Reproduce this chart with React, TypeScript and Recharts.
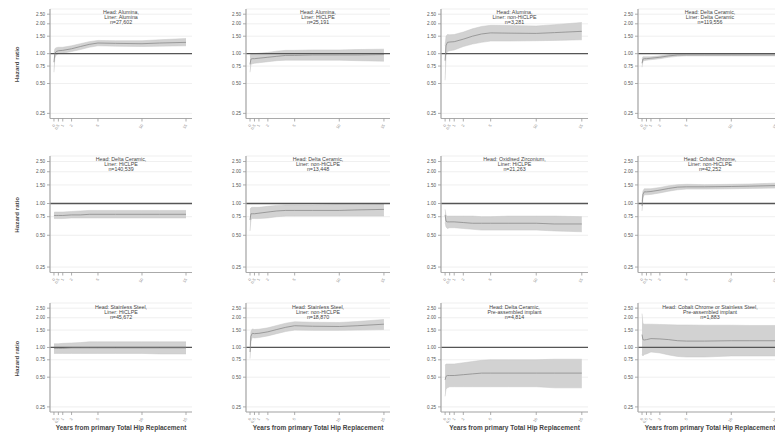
import React from 'react';
import { ComposedChart, Area, Line, XAxis, YAxis, CartesianGrid, ReferenceLine } from 'recharts';

// ---- data ----
const years = [0, 0.1, 0.25, 0.5, 1, 2, 3, 4, 5, 7, 10, 12, 15];
const yTicks = [0.25, 0.5, 0.75, 1, 1.5, 2, 2.5];
const xTicks = [0, 0.5, 1, 2, 5, 10, 15];
const xTickLabels = ['0', '0.5', '1', '2', '5', '10', '15'];

const heads = [
  'Head: Alumina,', 'Head: Alumina,', 'Head: Alumina,', 'Head: Delta Ceramic,',
  'Head: Delta Ceramic,', 'Head: Delta Ceramic,', 'Head: Oxidised Zirconium,', 'Head: Cobalt Chrome,',
  'Head: Stainless Steel,', 'Head: Stainless Steel,', 'Head: Delta Ceramic,', 'Head: Cobalt Chrome or Stainless Steel,',
];
const liners = [
  'Liner: Alumina', 'Liner: HiCLPE', 'Liner: non-HiCLPE', 'Liner: Delta Ceramic',
  'Liner: HiCLPE', 'Liner: non-HiCLPE', 'Liner: HiCLPE', 'Liner: non-HiCLPE',
  'Liner: HiCLPE', 'Liner: non-HiCLPE', 'Pre-assembled implant', 'Pre-assembled implant',
];
const counts = ['n=27,602', 'n=25,191', 'n=3,281', 'n=119,556', 'n=140,539', 'n=13,448', 'n=21,263', 'n=42,252', 'n=45,672', 'n=18,870', 'n=4,814', 'n=1,883'];

const hr1 = [0.82, 1.0, 1.05, 1.07, 1.08, 1.12, 1.18, 1.24, 1.28, 1.27, 1.26, 1.28, 1.3];
const lo1 = [0.65, 0.9, 0.97, 1.0, 1.01, 1.05, 1.1, 1.16, 1.2, 1.19, 1.18, 1.19, 1.2];
const hi1 = [1.0, 1.12, 1.15, 1.16, 1.16, 1.2, 1.26, 1.32, 1.36, 1.35, 1.35, 1.38, 1.42];

const hr2 = [0.78, 0.88, 0.89, 0.89, 0.9, 0.92, 0.94, 0.96, 0.96, 0.97, 0.97, 0.97, 0.98];
const lo2 = [0.65, 0.78, 0.79, 0.8, 0.81, 0.83, 0.85, 0.86, 0.86, 0.86, 0.86, 0.85, 0.84];
const hi2 = [0.95, 1.0, 1.0, 1.0, 1.01, 1.03, 1.06, 1.08, 1.08, 1.09, 1.09, 1.1, 1.11];

const hr3 = [0.85, 1.2, 1.3, 1.31, 1.32, 1.4, 1.5, 1.58, 1.62, 1.61, 1.6, 1.63, 1.68];
const lo3 = [0.54, 0.95, 1.05, 1.07, 1.09, 1.18, 1.25, 1.3, 1.34, 1.34, 1.35, 1.36, 1.38];
const hi3 = [1.2, 1.5, 1.56, 1.55, 1.56, 1.65, 1.78, 1.88, 1.93, 1.92, 1.9, 1.96, 2.06];

const hr4 = [0.8, 0.88, 0.89, 0.89, 0.9, 0.92, 0.95, 0.97, 0.97, 0.97, 0.97, 0.97, 0.97];
const lo4 = [0.73, 0.84, 0.85, 0.86, 0.87, 0.89, 0.92, 0.94, 0.95, 0.95, 0.95, 0.95, 0.95];
const hi4 = [0.88, 0.93, 0.93, 0.93, 0.93, 0.95, 0.98, 0.99, 1.0, 1.0, 0.99, 1.0, 1.0];

const hr5 = [0.77, 0.77, 0.77, 0.77, 0.77, 0.78, 0.78, 0.79, 0.79, 0.79, 0.79, 0.79, 0.79];
const lo5 = [0.72, 0.72, 0.72, 0.72, 0.72, 0.73, 0.73, 0.73, 0.73, 0.73, 0.73, 0.73, 0.73];
const hi5 = [0.82, 0.83, 0.83, 0.83, 0.83, 0.84, 0.85, 0.86, 0.86, 0.86, 0.86, 0.86, 0.86];

const hr6 = [0.7, 0.8, 0.8, 0.8, 0.81, 0.83, 0.85, 0.86, 0.86, 0.86, 0.86, 0.87, 0.88];
const lo6 = [0.55, 0.7, 0.72, 0.72, 0.72, 0.73, 0.75, 0.76, 0.76, 0.76, 0.76, 0.76, 0.76];
const hi6 = [0.88, 0.91, 0.92, 0.92, 0.92, 0.94, 0.96, 0.97, 0.97, 0.97, 0.98, 0.98, 0.99];

const hr7 = [0.78, 0.68, 0.67, 0.67, 0.67, 0.66, 0.65, 0.65, 0.65, 0.65, 0.65, 0.64, 0.64];
const lo7 = [0.66, 0.6, 0.58, 0.59, 0.59, 0.58, 0.57, 0.56, 0.56, 0.56, 0.56, 0.55, 0.54];
const hi7 = [0.88, 0.77, 0.76, 0.76, 0.76, 0.76, 0.76, 0.75, 0.75, 0.76, 0.76, 0.76, 0.75];

const hr8 = [0.95, 1.22, 1.29, 1.29, 1.3, 1.34, 1.39, 1.43, 1.44, 1.44, 1.45, 1.46, 1.48];
const lo8 = [0.85, 1.13, 1.21, 1.21, 1.22, 1.26, 1.31, 1.35, 1.37, 1.37, 1.38, 1.39, 1.4];
const hi8 = [1.05, 1.31, 1.38, 1.38, 1.38, 1.42, 1.47, 1.51, 1.52, 1.51, 1.52, 1.53, 1.56];

const hr9 = [0.98, 0.98, 0.98, 0.98, 0.98, 0.99, 0.99, 0.99, 0.99, 0.99, 0.99, 0.99, 0.99];
const lo9 = [0.87, 0.87, 0.87, 0.87, 0.87, 0.87, 0.87, 0.87, 0.87, 0.87, 0.87, 0.86, 0.86];
const hi9 = [1.09, 1.09, 1.09, 1.09, 1.1, 1.11, 1.12, 1.14, 1.14, 1.14, 1.14, 1.14, 1.14];

const hr10 = [0.9, 1.3, 1.39, 1.38, 1.39, 1.44, 1.52, 1.6, 1.66, 1.64, 1.63, 1.66, 1.72];
const lo10 = [0.77, 1.15, 1.26, 1.25, 1.26, 1.31, 1.38, 1.45, 1.5, 1.49, 1.49, 1.5, 1.52];
const hi10 = [1.05, 1.45, 1.54, 1.52, 1.53, 1.58, 1.67, 1.76, 1.82, 1.8, 1.79, 1.83, 1.92];

const hr11 = [0.47, 0.51, 0.52, 0.52, 0.52, 0.53, 0.54, 0.55, 0.55, 0.55, 0.55, 0.55, 0.55];
const lo11 = [0.32, 0.38, 0.39, 0.4, 0.4, 0.4, 0.4, 0.4, 0.4, 0.4, 0.4, 0.39, 0.39];
const hi11 = [0.66, 0.68, 0.68, 0.68, 0.68, 0.7, 0.72, 0.74, 0.75, 0.75, 0.75, 0.76, 0.76];

const hr12 = [1.35, 1.2, 1.19, 1.2, 1.23, 1.22, 1.2, 1.17, 1.16, 1.16, 1.17, 1.17, 1.17];
const lo12 = [0.85, 0.82, 0.85, 0.86, 0.9, 0.88, 0.84, 0.81, 0.8, 0.8, 0.82, 0.82, 0.82];
const hi12 = [2.2, 1.75, 1.72, 1.72, 1.72, 1.71, 1.7, 1.69, 1.69, 1.68, 1.68, 1.67, 1.67];

const hrs = [hr1, hr2, hr3, hr4, hr5, hr6, hr7, hr8, hr9, hr10, hr11, hr12];
const los = [lo1, lo2, lo3, lo4, lo5, lo6, lo7, lo8, lo9, lo10, lo11, lo12];
const his = [hi1, hi2, hi3, hi4, hi5, hi6, hi7, hi8, hi9, hi10, hi11, hi12];

// ---- layout ----
const colAxisX = [50, 246, 441, 638];
const colRight = [192, 390, 588, 782];
const rowTop = [8.5, 155.5, 303];
const rowBottom = [118, 272, 412];
const Y_LEFT = 50;
const PAD_TOP = 5;
const FONT = '"Liberation Sans", Arial, sans-serif';

const XTick = (props: any) => {
  const { x, y, payload } = props;
  const i = xTicks.indexOf(payload.value);
  return (
    <text x={x} y={y + 1} fontSize={4} fill="#888" fontFamily={FONT} textAnchor="end" dominantBaseline="central"
      transform={`rotate(-60 ${x} ${y + 1})`}>
      {i >= 0 ? xTickLabels[i] : payload.value}
    </text>
  );
};

function Panel({ idx }: { idx: number }) {
  const row = Math.floor(idx / 4);
  const col = idx % 4;
  const plotW = colRight[col] - colAxisX[col];
  const plotH = rowBottom[row] - rowTop[row];
  const xAxisH = 14;
  const width = Y_LEFT + plotW + 2;
  const height = PAD_TOP + plotH + xAxisH;
  const data = years.map((t, i) => ({ t, hr: hrs[idx][i], band: [los[idx][i], his[idx][i]] }));
  return (
    <div style={{ position: 'absolute', left: colAxisX[col] - Y_LEFT, top: rowTop[row] - PAD_TOP }}>
      <ComposedChart width={width} height={height} data={data} margin={{ top: PAD_TOP, right: 2, bottom: 0, left: 0 }}>
        <CartesianGrid vertical={false} stroke="#ebebeb" strokeWidth={0.8} />
        <XAxis dataKey="t" type="number" domain={[-0.45, 15.68]} ticks={xTicks} allowDataOverflow
          tickSize={3} tickLine={{ stroke: '#999', strokeWidth: 0.8 }} axisLine={{ stroke: '#aaa', strokeWidth: 1.2 }}
          height={xAxisH} tick={<XTick />} interval={0} />
        <YAxis scale="log" domain={[0.222, 2.82]} ticks={yTicks} allowDataOverflow width={Y_LEFT}
          tickFormatter={(v: number) => v.toFixed(2)} tickSize={3} tickMargin={2}
          tickLine={{ stroke: '#999', strokeWidth: 0.8 }} axisLine={{ stroke: '#aaa', strokeWidth: 1.3 }}
          tick={{ fontSize: 4.6, fill: '#555', fontFamily: FONT }} interval={0} />
        <Area dataKey="band" type="linear" fill="#d2d2d2" fillOpacity={1} stroke="#c6c6c6" strokeWidth={0.5} isAnimationActive={false} />
        <ReferenceLine y={1} stroke="#555" strokeWidth={1.3} ifOverflow="visible" />
        <Line dataKey="hr" type="linear" stroke="#8c8c8c" strokeWidth={0.8} dot={false} isAnimationActive={false} />
      </ComposedChart>
    </div>
  );
}

export default function App() {
  const idxs = heads.map((_, i) => i);
  return (
    <div style={{ position: 'absolute', left: 0, top: 0, width: 775, height: 436, overflow: 'hidden', background: '#fff' }}>
      {idxs.map((i) => <Panel key={i} idx={i} />)}
      <svg width={775} height={436} style={{ position: 'absolute', left: 0, top: 0, pointerEvents: 'none' }}>
        {idxs.map((i) => {
          const row = Math.floor(i / 4);
          const col = i % 4;
          const cx = (colAxisX[col] + colRight[col]) / 2;
          const top = rowTop[row];
          return (
            <g key={i} fontFamily={FONT} fontSize={5.3} fill="#444" textAnchor="middle">
              <text x={cx} y={top + 5.6}>{heads[i]}</text>
              <text x={cx} y={top + 10.6}>{liners[i]}</text>
              <text x={cx} y={top + 15.6}>{counts[i]}</text>
            </g>
          );
        })}
        {rowTop.map((t, r) => {
          const cy = (t + rowBottom[r]) / 2 + 1;
          return (
            <text key={'hz' + r} x={16.5} y={cy} fontFamily={FONT} fontSize={6.2} fontWeight="bold" fill="#444" textAnchor="middle"
              dominantBaseline="central" transform={`rotate(-90 16.5 ${cy})`}>Hazard ratio</text>
          );
        })}
        {colAxisX.map((x, c) => (
          <text key={'xt' + c} x={(x + colRight[c]) / 2} y={429.5} fontFamily={FONT} fontSize={6.5} fontWeight="bold" fill="#444" textAnchor="middle">
            Years from primary Total Hip Replacement
          </text>
        ))}
      </svg>
    </div>
  );
}
